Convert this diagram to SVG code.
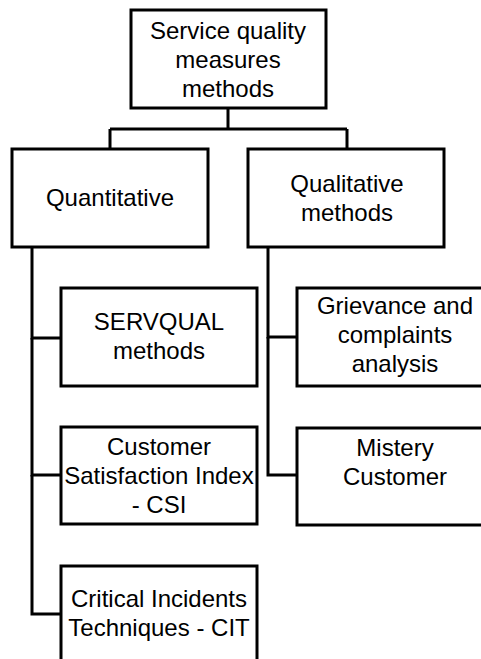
<svg xmlns="http://www.w3.org/2000/svg" width="481" height="659" viewBox="0 0 481 659">
<style>
.box{fill:#fff;stroke:#000;stroke-width:3}
.c{fill:none;stroke:#000;stroke-width:3}
text{font-family:"Liberation Sans",Arial,sans-serif;font-size:24px;fill:#000;text-anchor:middle}
</style>
<rect width="481" height="659" fill="#fff"/>
<g id="connectors">
<path class="c" d="M228,108 V129 M110,129 H347 M110,129 V149 M347,129 V149"/>
<path class="c" d="M32,247 V338 H61"/>
<path class="c" d="M32,338 V475 H61"/>
<path class="c" d="M32,475 V614 H61"/>
<path class="c" d="M268,247 V337 H297"/>
<path class="c" d="M268,337 V475 H297"/>
</g>
<g id="root">
<rect class="box" x="131" y="10" width="195" height="98"/>
<text x="228" y="39">Service quality</text>
<text x="228" y="68">measures</text>
<text x="228" y="97">methods</text>
</g>
<g id="quantitative">
<rect class="box" x="12" y="149" width="196" height="98"/>
<text x="110" y="206">Quantitative</text>
</g>
<g id="qualitative">
<rect class="box" x="248" y="149" width="196" height="98"/>
<text x="347" y="192">Qualitative</text>
<text x="347" y="221">methods</text>
</g>
<g id="servqual">
<rect class="box" x="61" y="288" width="196" height="98"/>
<text x="159" y="330">SERVQUAL</text>
<text x="159" y="359">methods</text>
</g>
<g id="csi">
<rect class="box" x="61" y="427" width="196" height="97"/>
<text x="159" y="455">Customer</text>
<text x="159" y="484">Satisfaction Index</text>
<text x="159" y="513">- CSI</text>
</g>
<g id="cit">
<rect class="box" x="61" y="566" width="196" height="110"/>
<text x="159" y="607">Critical Incidents</text>
<text x="159" y="636">Techniques - CIT</text>
</g>
<g id="grievance">
<rect class="box" x="297" y="288" width="196" height="98"/>
<text x="395" y="314">Grievance and</text>
<text x="395" y="343">complaints</text>
<text x="395" y="372">analysis</text>
</g>
<g id="mistery">
<rect class="box" x="297" y="428" width="196" height="97"/>
<text x="395" y="456">Mistery</text>
<text x="395" y="485">Customer</text>
</g>
</svg>
